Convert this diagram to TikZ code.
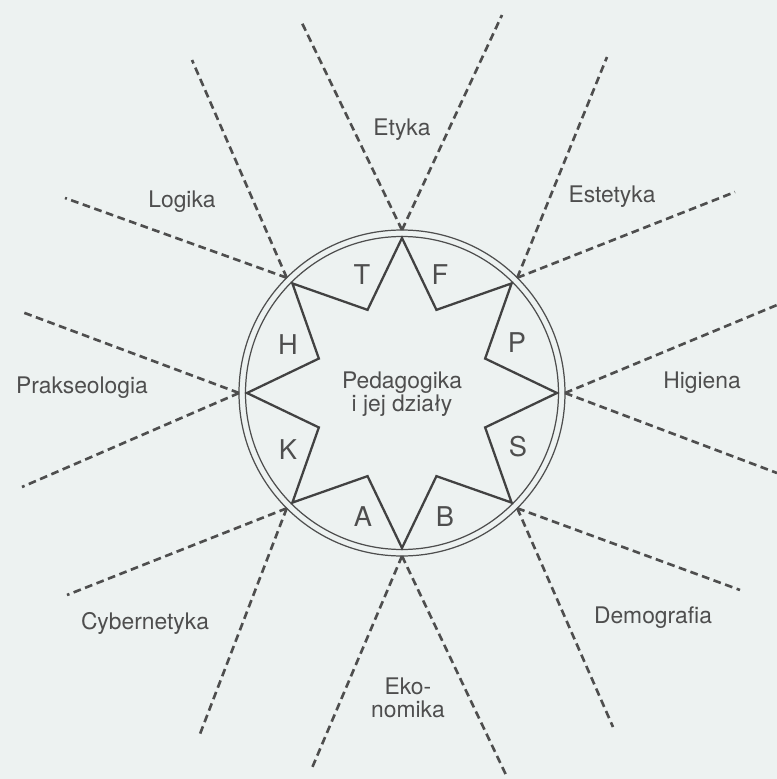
\documentclass[tikz,border=0pt]{standalone}
\usepackage{fontspec}
\setmainfont{TeX Gyre Heros}
\usepackage{xcolor}
\usetikzlibrary{positioning}
\definecolor{paper}{RGB}{237,242,241}
\definecolor{ink}{RGB}{78,78,78}

\begin{document}
\begin{tikzpicture}[x=0.02cm, y=0.02cm,
    field/.style={text=ink, font=\fontsize{13}{13}\selectfont, align=center, inner sep=0pt},
    letter/.style={text=ink, font=\fontsize{15.5}{16}\selectfont, inner sep=0pt},
    rim/.style={draw=ink, line width=0.7pt},
    starline/.style={draw=ink!85!black, line width=1.3pt, line join=miter},
    ray/.style={draw=ink, line width=1.5pt, dash pattern=on 4.4pt off 2.6pt}
]
    % Page and frame
    \fill[paper] (-402,-386) rectangle (375,393);
    \useasboundingbox (-402,-386) rectangle (375,393);

    % Double circle and the eight-pointed star
    \draw[rim] (0,0) circle (156.5);
    \draw[rim] (0,0) circle (163);
    \draw[starline] (90:155) -- (112.5:90) -- (135:155) -- (157.5:90) -- (180:155)
        -- (202.5:90) -- (225:155) -- (247.5:90) -- (270:155) -- (292.5:90)
        -- (315:155) -- (337.5:90) -- (0:155) -- (22.5:90) -- (45:155) -- (67.5:90) -- cycle;

    % Centre
    \node[field] (ped) at (0,-1) {Pedagogika\\i jej działy};

    % Letters in the star
    \node[letter] (letT) at (-40,118) {T};
    \node[letter] (letF) at (38,118) {F};
    \node[letter] (letP) at (115,50) {P};
    \node[letter] (letS) at (116,-54) {S};
    \node[letter] (letB) at (43,-124) {B};
    \node[letter] (letA) at (-39,-124) {A};
    \node[letter] (letK) at (-114,-57) {K};
    \node[letter] (letH) at (-114,48) {H};

    % Start of the rays on the outer circle
    \coordinate (tipN) at (90:163);
    \coordinate (tipNE) at (45:163);
    \coordinate (tipE) at (0:163);
    \coordinate (tipSE) at (-45:163);
    \coordinate (tipS) at (-90:163);
    \coordinate (tipSW) at (-135:163);
    \coordinate (tipW) at (180:163);
    \coordinate (tipNW) at (135:163);

    % Free ends of the rays
    \coordinate (endNa) at (-100,370);
    \coordinate (endNb) at (100,378);
    \coordinate (endNEa) at (205,336);
    \coordinate (endNEb) at (333,201);
    \coordinate (endEa) at (375,88);
    \coordinate (endEb) at (375,-80);
    \coordinate (endSEa) at (338,-197);
    \coordinate (endSEb) at (211,-334);
    \coordinate (endSa) at (105,-384);
    \coordinate (endSb) at (-90,-375);
    \coordinate (endSWa) at (-202,-341);
    \coordinate (endSWb) at (-335,-202);
    \coordinate (endWa) at (-380,-94);
    \coordinate (endWb) at (-380,81);
    \coordinate (endNWa) at (-337,195);
    \coordinate (endNWb) at (-210,333);

    % Rays
    \draw[ray] (tipN) -- (endNa);
    \draw[ray] (tipN) -- (endNb);
    \draw[ray] (tipNE) -- (endNEa);
    \draw[ray] (tipNE) -- (endNEb);
    \draw[ray] (tipE) -- (endEa);
    \draw[ray] (tipE) -- (endEb);
    \draw[ray] (tipSE) -- (endSEa);
    \draw[ray] (tipSE) -- (endSEb);
    \draw[ray] (tipS) -- (endSa);
    \draw[ray] (tipS) -- (endSb);
    \draw[ray] (tipSW) -- (endSWa);
    \draw[ray] (tipSW) -- (endSWb);
    \draw[ray] (tipW) -- (endWa);
    \draw[ray] (tipW) -- (endWb);
    \draw[ray] (tipNW) -- (endNWa);
    \draw[ray] (tipNW) -- (endNWb);

    % Neighbouring sciences
    \node[field] (etyka) at (0,263) {Etyka};
    \node[field] (estetyka) at (210,196) {Estetyka};
    \node[field] (higiena) at (300,10) {Higiena};
    \node[field] (demografia) at (251,-225) {Demografia};
    \node[field] (ekonomika) at (6,-305) {Eko-\\nomika};
    \node[field] (cybernetyka) at (-257,-230) {Cybernetyka};
    \node[field] (prakseologia) at (-320,5) {Prakseologia};
    \node[field] (logika) at (-220,191) {Logika};

\end{tikzpicture}
\end{document}
